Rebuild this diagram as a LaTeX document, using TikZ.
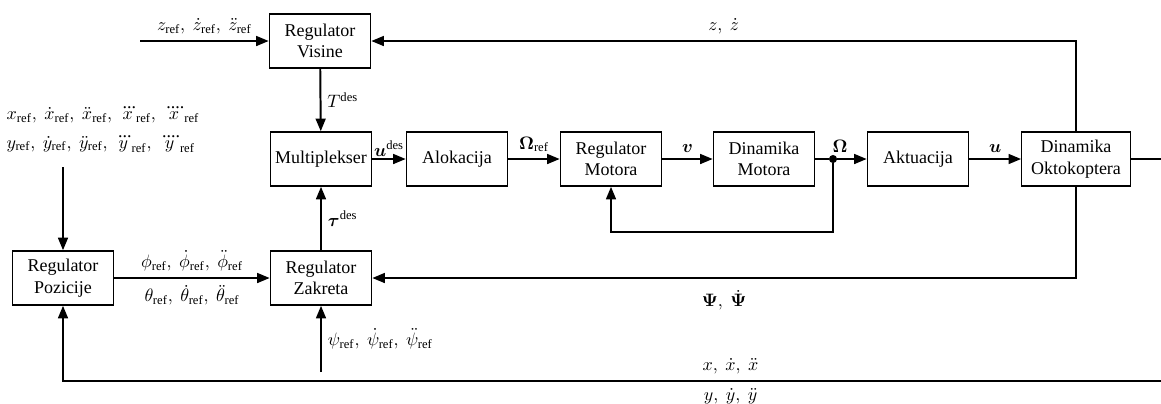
\documentclass[tikz,border=0pt]{standalone}
\usepackage{amsmath,bm}
\usepackage{fontspec}
\setmainfont{Liberation Serif}
\usetikzlibrary{shapes,arrows.meta}

\tikzset{
  block/.style={draw,line width=0.75pt,minimum width=1.98cm,minimum height=1.06cm,align=center,inner sep=2pt},
  signal/.style={line width=1.1pt,-{Triangle[length=7pt,width=5.5pt]}},
  wire/.style={line width=1.1pt},
  junction/.style={circle,fill,inner sep=0pt,minimum size=4.5pt},
}
\newcommand{\rf}{\mathrm{ref}}

\begin{document}
\begin{tikzpicture}[x=0.01955cm,y=-0.01955cm]
        \useasboundingbox (0,0) rectangle (1161,403);

        \node[block] (visine) at (320,41) {Regulator\\Visine};
        \node[block] (mux) at (321,159) {Multiplekser};
        \node[block] (alok) at (457,159) {Alokacija};
        \node[block] (regmot) at (611,159) {Regulator\\Motora};
        \node[block] (dinmot) at (764,159) {Dinamika\\Motora};
        \node[block] (akt) at (918,159) {Aktuacija};
        \node[block,minimum width=2.12cm] (okto) at (1076,159) {Dinamika\\Oktokoptera};
        \node[block] (poz) at (63,278) {Regulator\\Pozicije};
        \node[block] (zak) at (321,278) {Regulator\\Zakreta};

        \node[junction,label={[xshift=4pt,inner sep=1pt]above:$\bm\Omega$}] (omega) at (833,159) {};

        \node[align=left] (xyref) at (103,130) {$x_\rf,\ \dot x_\rf,\ \ddot x_\rf,\ \dddot x_\rf,\ \ddddot x_\rf$\\[4pt]
                $y_\rf,\ \dot y_\rf,\ \ddot y_\rf,\ \dddot y_\rf,\ \ddddot y_\rf$};

        \coordinate (zin) at (140,41);
        \coordinate (xyin) at (63,167);
        \coordinate (psiin) at (321,372);
        \coordinate (out) at (1161,159);
        \coordinate (posfb) at (1161,381);

        % forward path
        \draw[signal] (zin) -- node[above]{$z_\rf,\ \dot z_\rf,\ \ddot z_\rf$} (visine);
        \draw[signal] (visine) -- node[right]{$T^{\mathrm{des}}$} (mux);
        \draw[signal] (zak) -- node[right]{$\bm\tau^{\mathrm{des}}$} (mux);
        \draw[signal] (mux) -- node[above,inner sep=1pt]{$\bm u^{\mathrm{des}}$} (alok);
        \draw[signal] (alok) -- node[above]{$\bm\Omega_\rf$} (regmot);
        \draw[signal] (regmot) -- node[above]{$\bm v$} (dinmot);
        \draw[wire] (dinmot) -- (omega);
        \draw[signal] (omega) -- (akt);
        \draw[signal] (akt) -- node[above]{$\bm u$} (okto);
        \draw[wire] (okto) -- (out);

        % motor loop
        \draw[signal] (omega) -- ++(0,73) -| (regmot);

        % feedback
        \draw[signal] (okto.north) |- node[pos=0.75,above]{$z,\ \dot z$} (visine);
        \draw[signal] (okto.south) |- node[pos=0.75,below=3pt]{$\bm\Psi,\ \dot{\bm\Psi}$} (zak);
        \draw[signal] (posfb) -| node[pos=0.196,above]{$x,\ \dot x,\ \ddot x$}
                node[pos=0.196,below]{$y,\ \dot y,\ \ddot y$} (poz);

        % references
        \draw[signal] (poz) -- node[above]{$\phi_\rf,\ \dot\phi_\rf,\ \ddot\phi_\rf$}
                node[below]{$\theta_\rf,\ \dot\theta_\rf,\ \ddot\theta_\rf$} (zak);
        \draw[signal] (psiin) -- node[right]{$\psi_\rf,\ \dot\psi_\rf,\ \ddot\psi_\rf$} (zak);
        \draw[signal] (xyin) -- (poz);

    \end{tikzpicture}
\end{document}
